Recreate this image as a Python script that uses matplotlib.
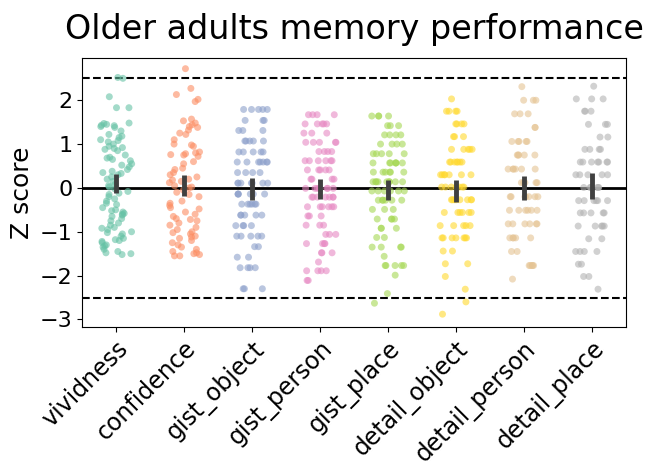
import numpy as np
import matplotlib
matplotlib.use("Agg")
import matplotlib.pyplot as plt
from matplotlib.ticker import MultipleLocator
import seaborn as sns

# Measures shown along the x axis
measures = ["vividness", "confidence", "gist_object", "gist_person",
            "gist_place", "detail_object", "detail_person", "detail_place"]

# continuous scores
vividness = [2.52, 2.50, 2.08, 1.83, 1.83, 1.48, 1.47, 1.45, 1.43, 1.42, 1.40, 1.38,
             1.30, 1.22, 1.18, 1.15, 1.10, 1.08, 1.05, 1.00, 0.95, 0.92, 0.90, 0.88,
             0.85, 0.75, 0.70, 0.68, 0.65, 0.62, 0.55, 0.52, 0.48, 0.42, 0.38, 0.35,
             0.33, 0.30, 0.25, 0.20, 0.15, 0.08, 0.05, 0.02, -0.02, -0.08, -0.12,
             -0.15, -0.20, -0.25, -0.30, -0.35, -0.38, -0.45, -0.50, -0.52, -0.55,
             -0.58, -0.60, -0.62, -0.65, -0.70, -0.75, -0.80, -0.85, -0.90, -0.92,
             -0.95, -1.00, -1.02, -1.05, -1.10, -1.15, -1.18, -1.20, -1.22, -1.25,
             -1.30, -1.32, -1.35, -1.40, -1.45, -1.48, -1.50, -1.52]
confidence = [2.72, 2.27, 2.13, 2.02, 1.97, 1.57, 1.53, 1.48, 1.44, 1.40, 1.38, 1.32,
              1.25, 1.22, 1.10, 1.00, 0.98, 0.95, 0.82, 0.80, 0.78, 0.76, 0.75, 0.72,
              0.60, 0.55, 0.45, 0.42, 0.35, 0.30, 0.25, 0.20, 0.18, 0.15, 0.12, 0.05,
              0.02, 0.00, -0.05, -0.10, -0.15, -0.20, -0.30, -0.35, -0.40, -0.45,
              -0.48, -0.55, -0.60, -0.65, -0.70, -0.72, -0.75, -0.80, -0.85, -0.90,
              -0.95, -1.00, -1.02, -1.05, -1.10, -1.12, -1.15, -1.20, -1.25, -1.30,
              -1.35, -1.40, -1.45, -1.48, -1.50, -1.52, -1.55, -1.55]

# discrete scores: levels and how many participants sit on each level
gist_object_lv = [1.79, 1.54, 1.31, 1.07, 0.82, 0.59, 0.35, 0.11, -0.14, -0.37,
                  -0.62, -0.86, -1.10, -1.34, -1.58, -1.82, -2.30]
gist_object_n = [5, 3, 3, 5, 5, 7, 4, 7, 6, 6, 5, 4, 5, 2, 2, 4, 3]

gist_person_lv = [1.67, 1.46, 1.25, 1.04, 0.83, 0.62, 0.41, 0.20, -0.01, -0.21,
                  -0.43, -0.64, -0.85, -1.06, -1.27, -1.48, -1.69, -1.89, -2.11]
gist_person_n = [4, 5, 3, 5, 4, 6, 5, 4, 8, 7, 6, 3, 3, 3, 4, 3, 1, 4, 2]

gist_place_lv = [1.64, 1.42, 1.21, 1.00, 0.78, 0.57, 0.36, 0.14, -0.07, -0.28,
                 -0.49, -0.71, -0.92, -1.13, -1.35, -1.56, -1.77, -1.99, -2.41, -2.63]
gist_place_n = [4, 3, 4, 4, 5, 7, 6, 9, 6, 6, 3, 4, 3, 2, 4, 1, 5, 1, 1, 1]

detail_object_lv = [2.03, 1.75, 1.46, 1.17, 0.88, 0.59, 0.30, 0.02, -0.27, -0.56,
                    -0.86, -1.14, -1.44, -1.73, -2.02, -2.31, -2.60, -2.88]
detail_object_n = [1, 4, 4, 3, 5, 7, 7, 7, 8, 6, 5, 7, 2, 2, 1, 1, 1, 1]

detail_person_lv = [2.31, 2.00, 1.69, 1.38, 1.06, 0.75, 0.43, 0.12, -0.20, -0.51,
                    -0.82, -1.14, -1.45, -1.77, -2.08]
detail_person_n = [1, 3, 3, 2, 5, 5, 6, 5, 7, 6, 6, 5, 2, 5, 1]

detail_place_lv = [2.32, 2.03, 1.75, 1.45, 1.16, 0.88, 0.59, 0.30, 0.01, -0.29,
                   -0.57, -0.87, -1.16, -1.45, -1.74, -2.02, -2.31]
detail_place_n = [1, 3, 3, 3, 2, 4, 7, 5, 6, 6, 5, 5, 2, 4, 2, 2, 1]

scores = {
    "vividness": np.array(vividness),
    "confidence": np.array(confidence),
    "gist_object": np.repeat(gist_object_lv, gist_object_n),
    "gist_person": np.repeat(gist_person_lv, gist_person_n),
    "gist_place": np.repeat(gist_place_lv, gist_place_n),
    "detail_object": np.repeat(detail_object_lv, detail_object_n),
    "detail_person": np.repeat(detail_person_lv, detail_person_n),
    "detail_place": np.repeat(detail_place_lv, detail_place_n),
}

cat = np.concatenate([[m] * len(scores[m]) for m in measures])
val = np.concatenate([scores[m] for m in measures])

np.random.seed(3)  # jitter only
fig = plt.figure(figsize=(6.52, 4.69), dpi=100)
ax = fig.add_axes([0.126, 0.303, 0.834, 0.573])

ax.axhline(0, color="k", lw=2, zorder=1)
ax.axhline(2.5, color="k", lw=1.5, ls="--", zorder=1)
ax.axhline(-2.5, color="k", lw=1.5, ls="--", zorder=1)

sns.stripplot(x=cat, y=val, order=measures, hue=cat, hue_order=measures,
              palette="Set2", jitter=0.24, size=5, alpha=0.6, linewidth=0,
              legend=False, ax=ax, zorder=2)

# mean with 95% CI
for i, m in enumerate(measures):
    v = scores[m]
    mu = v.mean()
    ci = 1.96 * v.std(ddof=1) / np.sqrt(len(v))
    ax.vlines(i, mu - ci, mu + ci, color="0.25", lw=3.5, zorder=3)

ax.set_xlim(-0.5, 7.5)
ax.set_ylim(-3.17, 2.96)
ax.yaxis.set_major_locator(MultipleLocator(1))
ax.set_title("Older adults memory performance", fontsize=24, pad=14)
ax.set_ylabel("Z score", fontsize=18)
ax.set_xlabel("")
ax.tick_params(axis="y", labelsize=16)
ax.tick_params(axis="x", labelsize=17)
plt.setp(ax.get_xticklabels(), rotation=45, ha="right", rotation_mode="anchor")

fig.savefig("out.png", dpi=100)
